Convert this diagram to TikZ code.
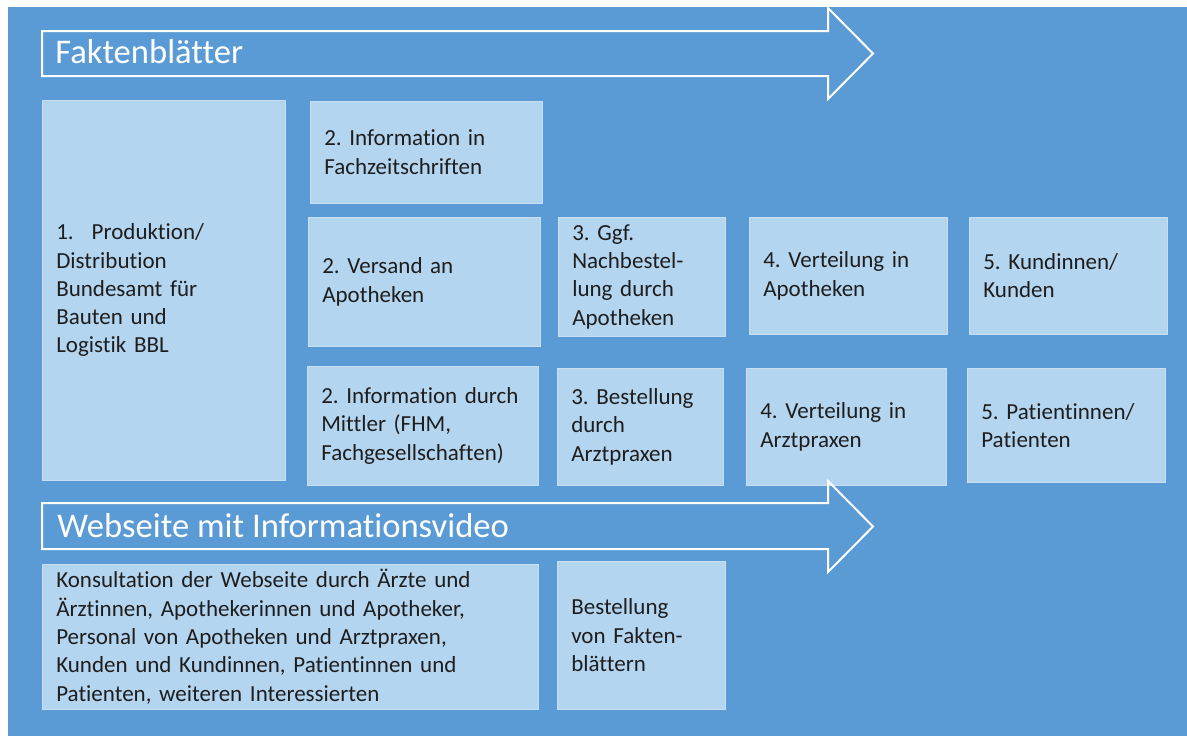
\documentclass[tikz,border=0pt]{standalone}
\usepackage{fontspec}
\setmainfont{Carlito}[Ligatures=NoCommon]
\usepackage{tikz}
\definecolor{bgblue}{RGB}{91,155,213}
\definecolor{paleblue}{RGB}{180,213,239}
\definecolor{paleedge}{RGB}{198,223,244}
\definecolor{inkgray}{RGB}{30,30,30}
\frenchspacing

\begin{document}
\begin{tikzpicture}[
  x=0.5pt, y=-0.5pt,
  every node/.style={font=\fontsize{11.5}{14.15}\selectfont},
  panel/.style={anchor=north west,fill=paleblue,draw=paleedge,line width=0.3pt,align=left,inner xsep=7pt,inner ysep=0pt,text=inkgray},
  banner/.style={draw=white,line width=1pt},
  bannertext/.style={anchor=base west,inner sep=0pt,text=white,font=\fontsize{17.3}{20}\selectfont}
]
\useasboundingbox (0,0) rectangle (1187,736);
\fill[white] (0,0) rectangle (1187,736);
\fill[bgblue] (8,7) rectangle (1187,736);
% Faktenblaetter
\draw[banner] (42,31) -- (828,31) -- (828,8) -- (873,53.5) -- (828,99) -- (828,76) -- (42,76) -- cycle;
\node[bannertext] (fb) at (55,63) {Faktenblätter};
\node[panel,text width=107.5pt,minimum height=190pt] (prod) at (42,100) {1.\hspace{9pt}Produktion/\\Distribution\\Bundesamt für\\Bauten und\\Logistik BBL};
\node[panel,text width=102pt,minimum height=51pt] (fz) at (310,101) {2. Information in\\Fachzeitschriften};
% Apotheken
\node[panel,text width=102pt,minimum height=64.5pt] (vers) at (308,217) {2. Versand an\\Apotheken};
\node[panel,text width=69.5pt,minimum height=59.5pt] (nach) at (558,217) {3. Ggf.\\Nachbestel-\\lung durch\\Apotheken};
\node[panel,text width=85pt,minimum height=58.5pt] (vapo) at (749,217) {4. Verteilung in\\Apotheken};
\node[panel,text width=85pt,minimum height=58.5pt] (kund) at (969,217) {5. Kundinnen/\\Kunden};
% Arztpraxen
\node[panel,text width=101.5pt,minimum height=59.5pt] (mitt) at (307,366) {2. Information durch\\Mittler (FHM,\\Fachgesellschaften)};
\node[panel,text width=69pt,minimum height=58.5pt] (best) at (557,368) {3. Bestellung\\durch\\Arztpraxen};
\node[panel,text width=86pt,minimum height=58.5pt] (varz) at (746,368) {4. Verteilung in\\Arztpraxen};
\node[panel,text width=85pt,minimum height=57pt] (pat) at (967,368) {5. Patientinnen/\\Patienten};
% Webseite
\draw[banner] (42,503) -- (828,503) -- (828,481) -- (873,526.5) -- (828,572) -- (828,549) -- (42,549) -- cycle;
\node[bannertext] (web) at (57,537) {Webseite mit Informationsvideo};
\node[panel,text width=234pt,minimum height=72.5pt] (kons) at (42,564) {Konsultation der Webseite durch Ärzte und\\Ärztinnen, Apothekerinnen und Apotheker,\\Personal von Apotheken und Arztpraxen,\\Kunden und Kundinnen, Patientinnen und\\Patienten, weiteren Interessierten};
\node[panel,text width=70pt,minimum height=74pt] (bfak) at (557,561) {Bestellung\\von Fakten-\\blättern};
\end{tikzpicture}
\end{document}
